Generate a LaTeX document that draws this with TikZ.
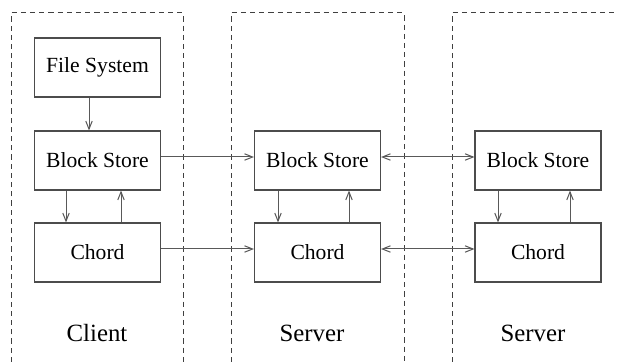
\documentclass[tikz,border=0pt]{standalone}
\usepackage{fontspec}
\setmainfont{Liberation Serif}
\usetikzlibrary{arrows.meta}

\begin{document}
\begin{tikzpicture}[x=0.5pt,y=-0.5pt,
    box/.style={shape=rectangle,draw=black!70,line width=0.6pt,minimum width=63pt,minimum height=29.5pt,font=\fontsize{10.8}{13}\selectfont},
    host/.style={font=\fontsize{12.4}{15}\selectfont},
    zone/.style={draw=black!75,line width=0.5pt,dash pattern=on 2.6pt off 2pt},
    arr/.style={draw=black!65,line width=0.5pt,-{Straight Barb[length=4pt,width=3.2pt]}},
    darr/.style={draw=black!65,line width=0.5pt,{Straight Barb[length=4pt,width=3.2pt]}-{Straight Barb[length=4pt,width=3.2pt]}}]
    \useasboundingbox (0,0) rectangle (617,362);
    % machines
    \draw[zone] (11,362) -- (11,13) -- (183,13) -- (183,362);
    \draw[zone] (231,362) -- (231,13) -- (404,13) -- (404,362);
    \draw[zone] (452,362) -- (452,13) -- (617,13);
	\node[box] (fs)   at (97.5, 67.5)  {File System};
	\node[box] (cbs)  at (97.5, 160.5) {Block Store};
	\node[box] (cch)  at (97.5, 252.5) {Chord};
	\node[box] (s1bs) at (317.5, 160.5) {Block Store};
	\node[box] (s1ch) at (317.5, 252.5) {Chord};
	\node[box] (s2bs) at (538, 160.5)  {Block Store};
	\node[box] (s2ch) at (538, 252.5)  {Chord};
	\node[host] (cl) at (97, 333)  {Client};
	\node[host] (s1) at (312, 333) {Server};
	\node[host] (s2) at (533, 333) {Server};
    % inside each machine
    \draw[arr] ([xshift=-4.25pt]fs.south) -- ([xshift=-4.25pt]cbs.north);
    \draw[arr] ([xshift=-15.75pt]cbs.south) -- ([xshift=-15.75pt]cch.north);
    \draw[arr] ([xshift=11.75pt]cch.north) -- ([xshift=11.75pt]cbs.south);
    \draw[arr] ([xshift=-19.75pt]s1bs.south) -- ([xshift=-19.75pt]s1ch.north);
    \draw[arr] ([xshift=15.75pt]s1ch.north) -- ([xshift=15.75pt]s1bs.south);
    \draw[arr] ([xshift=-20pt]s2bs.south) -- ([xshift=-20pt]s2ch.north);
    \draw[arr] ([xshift=16pt]s2ch.north) -- ([xshift=16pt]s2bs.south);
    % between machines
    \draw[arr] ([yshift=1.75pt]cbs.east) -- ([yshift=1.75pt]s1bs.west);
    \draw[arr] ([yshift=1.75pt]cch.east) -- ([yshift=1.75pt]s1ch.west);
    \draw[darr] ([yshift=1.75pt]s1bs.east) -- ([yshift=1.75pt]s2bs.west);
    \draw[darr] ([yshift=1.75pt]s1ch.east) -- ([yshift=1.75pt]s2ch.west);
\end{tikzpicture}
\end{document}
